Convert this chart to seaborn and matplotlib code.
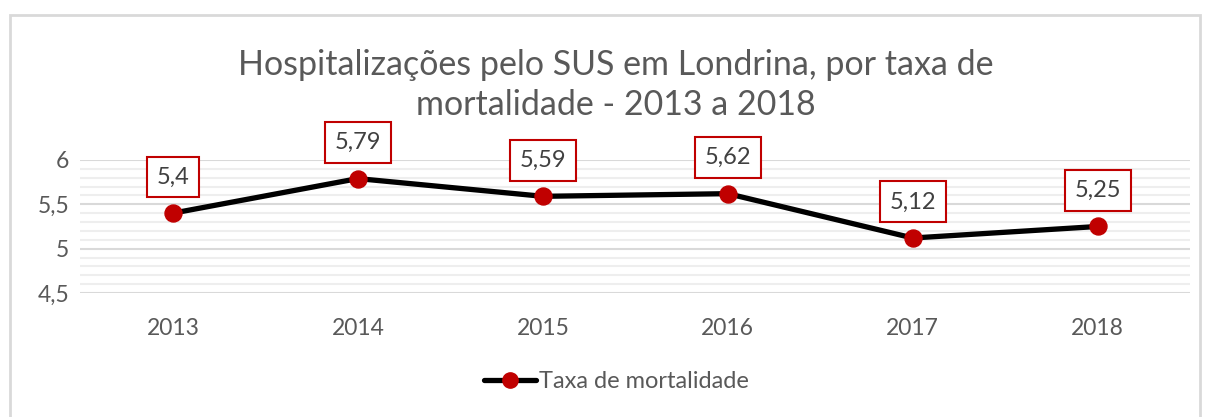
import pandas as pd
import matplotlib.pyplot as plt
import seaborn as sns
from matplotlib.ticker import MultipleLocator, FuncFormatter
from matplotlib.patches import Rectangle
from matplotlib.lines import Line2D

anos = ['2013', '2014', '2015', '2016', '2017', '2018']
taxa = [5.4, 5.79, 5.59, 5.62, 5.12, 5.25]
rotulos = ['5,4', '5,79', '5,59', '5,62', '5,12', '5,25']

df = pd.DataFrame({'Ano': anos, 'Taxa': taxa})

sns.set_style("white")
plt.rcParams['font.family'] = ['Lato', 'DejaVu Sans']
cinza = '#595959'

fig = plt.figure(figsize=(12.09, 4.17), dpi=100)
ax = fig.add_axes([0.0665, 0.2974, 0.918, 0.319])

# chart border like excel
fig.patches.append(Rectangle((10/1209, -0.1), 1190/1209, 1 - 15/417 + 0.1,
                             transform=fig.transFigure, fill=False,
                             edgecolor='#d9d9d9', linewidth=2))

sns.lineplot(data=df, x='Ano', y='Taxa', color='black', linewidth=3.8, ax=ax, zorder=3)
sns.scatterplot(data=df, x='Ano', y='Taxa', color='#c00000', s=150, edgecolor='#c00000', ax=ax, zorder=4)

for i, (v, t) in enumerate(zip(taxa, rotulos)):
    ax.annotate(t, (i, v), xytext=(0, 26), textcoords='offset points', ha='center', va='center',
                fontsize=17, color='#404040', zorder=5,
                bbox=dict(boxstyle='square,pad=0.42', fc='white', ec='#c00000', lw=1.5))

ax.set_xlim(-0.5, 5.5)
ax.set_ylim(4.5, 6)
ax.yaxis.set_major_locator(MultipleLocator(0.5))
ax.yaxis.set_minor_locator(MultipleLocator(0.1))
ax.yaxis.set_major_formatter(FuncFormatter(lambda v, p: ('%g' % v).replace('.', ',')))
ax.grid(axis='y', which='major', color='#d9d9d9', linewidth=1.5, zorder=0)
ax.grid(axis='y', which='minor', color='#eeeeee', linewidth=1.5, zorder=0)
ax.tick_params(axis='both', which='both', length=0, labelsize=16.5, labelcolor=cinza)
ax.tick_params(axis='x', pad=18)
ax.tick_params(axis='y', pad=8)
for s in ax.spines.values():
    s.set_visible(False)
ax.set_xlabel('')
ax.set_ylabel('')

fig.text(0.509, 0.797, 'Hospitalizações pelo SUS em Londrina, por taxa de\nmortalidade - 2013 a 2018',
         ha='center', va='center', fontsize=24.5, color=cinza, linespacing=1.3)

handle = Line2D([], [], color='black', linewidth=3.8, marker='o', markersize=11,
                markerfacecolor='#c00000', markeredgecolor='#c00000')
leg = fig.legend([handle], ['Taxa de mortalidade'], loc='center', bbox_to_anchor=(0.51, 0.084),
                 frameon=False, fontsize=17, handlelength=2.2, handletextpad=0.1)
for txt in leg.get_texts():
    txt.set_color(cinza)

fig.savefig('out.png', dpi=100)
